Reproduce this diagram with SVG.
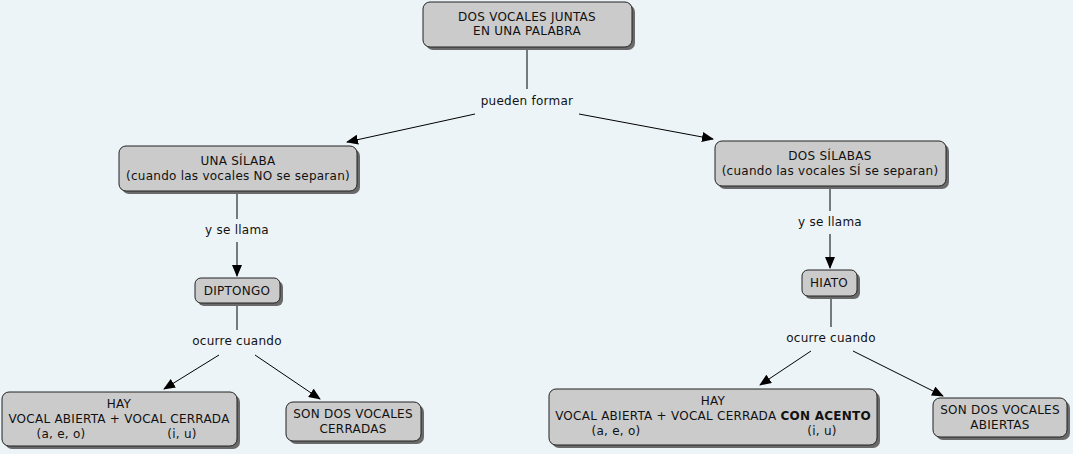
<svg xmlns="http://www.w3.org/2000/svg" width="1073" height="454" viewBox="0 0 1073 454">
<style>
.bg{fill:#edf4f7}
.sh{fill:#6a6a6a}
.box{fill:#cbcbcb;stroke:#222;stroke-width:1}
text{font-family:"DejaVu Sans",Verdana,sans-serif;font-size:12px;letter-spacing:0.25px;fill:#111;text-anchor:middle}
.c line{stroke:#000;stroke-width:1}
</style>
<defs>
<marker id="ah" markerWidth="12" markerHeight="10" refX="11" refY="5" orient="auto" markerUnits="userSpaceOnUse">
<path d="M0,0 L12,5 L0,10 Z" fill="#000"/>
</marker>
</defs>
<rect class="bg" width="1073" height="454"/>
<g class="c">
<line x1="527" y1="48" x2="527" y2="89"/>
<line x1="475" y1="114" x2="347" y2="142" marker-end="url(#ah)"/>
<line x1="579" y1="114" x2="713" y2="139" marker-end="url(#ah)"/>
<line x1="237" y1="193" x2="237" y2="219"/>
<line x1="237" y1="242" x2="237" y2="276" marker-end="url(#ah)"/>
<line x1="830" y1="188" x2="830" y2="211"/>
<line x1="830" y1="234" x2="830" y2="268" marker-end="url(#ah)"/>
<line x1="237" y1="305" x2="237" y2="330"/>
<line x1="219" y1="355" x2="164" y2="389" marker-end="url(#ah)"/>
<line x1="255" y1="355" x2="320" y2="399" marker-end="url(#ah)"/>
<line x1="831" y1="297" x2="831" y2="327"/>
<line x1="811" y1="351" x2="760" y2="385" marker-end="url(#ah)"/>
<line x1="853" y1="351" x2="943" y2="396" marker-end="url(#ah)"/>
</g>
<g id="lbl-pueden"><text x="527" y="105">pueden formar</text></g>
<g id="lbl-llama1"><text x="237" y="234">y se llama</text></g>
<g id="lbl-llama2"><text x="830" y="226">y se llama</text></g>
<g id="lbl-ocurre1"><text x="237" y="345">ocurre cuando</text></g>
<g id="lbl-ocurre2"><text x="831" y="342">ocurre cuando</text></g>
<g id="n-top">
<rect class="sh" x="426" y="5" width="209" height="45" rx="7"/>
<rect class="box" x="423" y="2" width="209" height="45" rx="7"/>
<text x="527" y="21">DOS VOCALES JUNTAS</text>
<text x="527" y="35">EN UNA PALABRA</text>
</g>
<g id="n-una">
<rect class="sh" x="122" y="149" width="238" height="45" rx="7"/>
<rect class="box" x="119" y="146" width="238" height="45" rx="7"/>
<text x="238" y="165">UNA SÍLABA</text>
<text x="238" y="180">(cuando las vocales NO se separan)</text>
</g>
<g id="n-dos">
<rect class="sh" x="718" y="144" width="231" height="45" rx="7"/>
<rect class="box" x="715" y="141" width="231" height="45" rx="7"/>
<text x="830" y="160">DOS SÍLABAS</text>
<text x="830" y="175">(cuando las vocales SÍ se separan)</text>
</g>
<g id="n-diptongo">
<rect class="sh" x="198" y="281" width="85" height="25" rx="6"/>
<rect class="box" x="195" y="278" width="85" height="25" rx="6"/>
<text x="237" y="295">DIPTONGO</text>
</g>
<g id="n-hiato">
<rect class="sh" x="805" y="273" width="55" height="26" rx="6"/>
<rect class="box" x="802" y="270" width="55" height="26" rx="6"/>
<text x="829" y="287">HIATO</text>
</g>
<g id="n-hay1">
<rect class="sh" x="5" y="395" width="235" height="54" rx="7"/>
<rect class="box" x="2" y="392" width="235" height="54" rx="7"/>
<text x="119" y="408">HAY</text>
<text x="119" y="423">VOCAL ABIERTA + VOCAL CERRADA</text>
<text x="61" y="438">(a, e, o)</text>
<text x="182" y="438">(i, u)</text>
</g>
<g id="n-cerradas">
<rect class="sh" x="289" y="405" width="135" height="39" rx="7"/>
<rect class="box" x="286" y="402" width="135" height="39" rx="7"/>
<text x="353" y="418">SON DOS VOCALES</text>
<text x="353" y="433">CERRADAS</text>
</g>
<g id="n-hay2">
<rect class="sh" x="552" y="392" width="328" height="56" rx="7"/>
<rect class="box" x="549" y="389" width="328" height="56" rx="7"/>
<text x="713" y="405">HAY</text>
<text x="713" y="420">VOCAL ABIERTA + VOCAL CERRADA <tspan font-weight="bold">CON ACENTO</tspan></text>
<text x="616" y="435">(a, e, o)</text>
<text x="822" y="435">(i, u)</text>
</g>
<g id="n-abiertas">
<rect class="sh" x="936" y="401" width="134" height="39" rx="7"/>
<rect class="box" x="933" y="398" width="134" height="39" rx="7"/>
<text x="1000" y="414">SON DOS VOCALES</text>
<text x="1000" y="429">ABIERTAS</text>
</g>
</svg>
